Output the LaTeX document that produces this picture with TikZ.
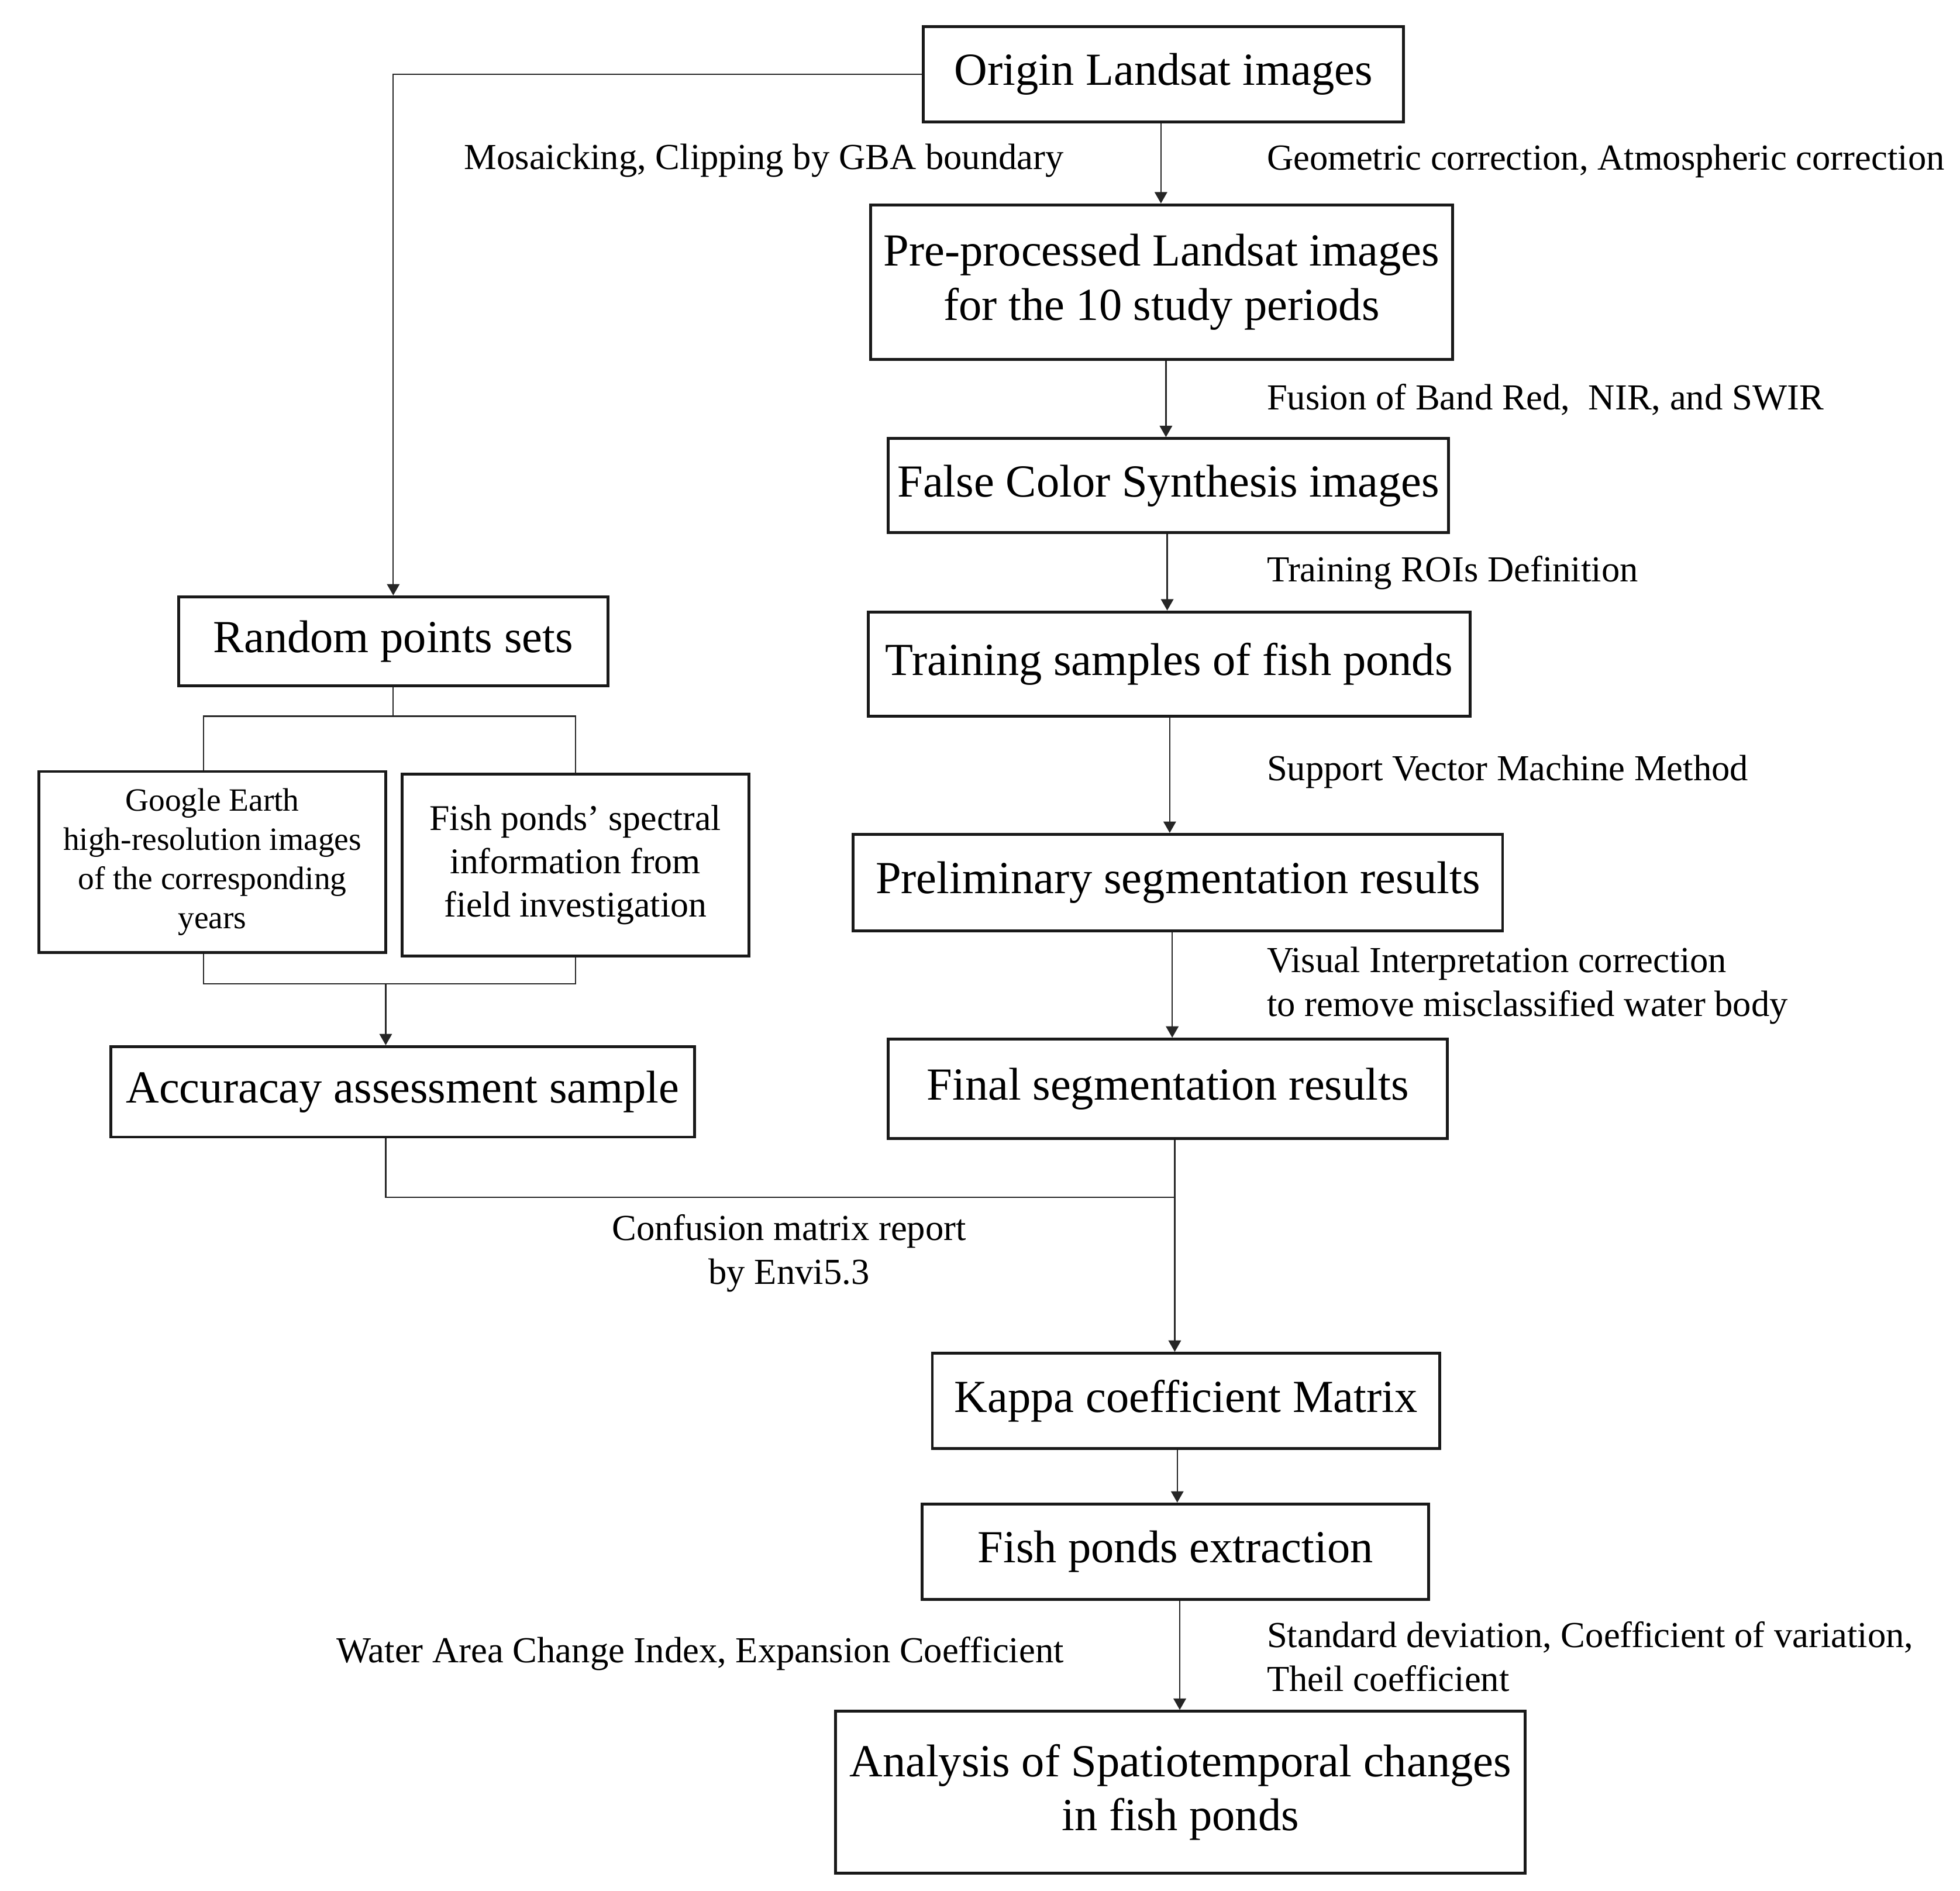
\documentclass[tikz,border=0pt]{standalone}
\usepackage{fontspec}
\setmainfont{Liberation Serif}
\usetikzlibrary{arrows.meta}
\tikzset{
  box/.style={draw=black!90, line width=1.3pt, inner sep=0pt, align=center, font=\fontsize{20.8}{24.5}\selectfont},
  lab/.style={inner sep=0pt, font=\fontsize{16.6}{19.9}\selectfont},
  conn/.style={draw=black!85, line width=0.6pt},
  arr/.style={conn, -{Triangle[width=0.2cm,length=0.18cm]}}
}
\begin{document}
\begin{tikzpicture}[x=0.02cm, y=-0.02cm]
\useasboundingbox (0,0) rectangle (1560,1505);
% right column
\node[box, minimum width=7.64cm, minimum height=1.52cm] (orig) at (926,59) {Origin Landsat images};
\node[box, minimum width=9.26cm, minimum height=2.46cm] (pre) at (924.5,224.5) {Pre-processed Landsat images\\for the 10 study periods};
\node[box, minimum width=8.92cm, minimum height=1.5cm] (fcs) at (930,386.5) {False Color Synthesis images};
\node[box, minimum width=9.58cm, minimum height=1.66cm] (train) at (930.5,528.5) {Training samples of fish ponds};
\node[box, minimum width=10.34cm, minimum height=1.54cm] (prelim) at (937.5,702.5) {Preliminary segmentation results};
\node[box, minimum width=8.9cm, minimum height=1.58cm] (final) at (929.5,866.5) {Final segmentation results};
\node[box, minimum width=8.08cm, minimum height=1.52cm] (kappa) at (944,1115) {Kappa coefficient Matrix};
\node[box, minimum width=8.06cm, minimum height=1.52cm] (fishex) at (935.5,1235) {Fish ponds extraction};
\node[box, minimum width=10.98cm, minimum height=2.58cm] (anal) at (939.5,1426.5) {Analysis of Spatiotemporal changes\\in fish ponds};
% left column
\node[box, minimum width=6.84cm, minimum height=1.42cm] (rand) at (313,510.5) {Random points sets};
\node[box, minimum width=5.52cm, minimum height=2.88cm, font=\fontsize{14.7}{17.8}\selectfont] (google) at (169,686) {Google Earth\\high-resolution images\\of the corresponding\\years};
\node[box, minimum width=5.52cm, minimum height=2.9cm, font=\fontsize{16.4}{19.6}\selectfont] (spec) at (458,688.5) {Fish ponds’ spectral\\information from\\field investigation};
\node[box, minimum width=9.3cm, minimum height=1.44cm] (acc) at (320.5,869) {Accuracay assessment sample};
% labels
\node[lab, anchor=east] (l1) at (847,128) {Mosaicking, Clipping by GBA boundary};
\node[lab, anchor=west] (l2) at (1008,128) {Geometric correction, Atmospheric correction};
\node[lab, anchor=west] (l3) at (1008,318) {Fusion of Band Red,\ \ NIR, and SWIR};
\node[lab, anchor=west] (l4) at (1008,456) {Training ROIs Definition};
\node[lab, anchor=west] (l5) at (1008,614) {Support Vector Machine Method};
\node[lab, anchor=west, align=left] (l6) at (1008,784.5) {Visual Interpretation correction\\to remove misclassified water body};
\node[lab, align=center] (l7) at (628,997.5) {Confusion matrix report\\by Envi5.3};
\node[lab, anchor=east] (l8) at (847,1316) {Water Area Change Index, Expansion Coefficient};
\node[lab, anchor=west, align=left] (l9) at (1008,1318.5) {Standard deviation, Coefficient of variation,\\Theil coefficient};
% helper coordinates
\coordinate (x1) at (924,0);
\coordinate (x2) at (928,0);
\coordinate (x3) at (929,0);
\coordinate (x4) at (931,0);
\coordinate (x5) at (933,0);
\coordinate (x6) at (937,0);
\coordinate (x7) at (939,0);
\coordinate (s1) at (162,570);
\coordinate (s2) at (458,570);
\coordinate (b1) at (162,783);
\coordinate (b2) at (458,783);
\coordinate (m) at (307,783);
\coordinate (j1) at (307,953);
\coordinate (j2) at (935,953);
% connectors right column
\draw[arr] (orig.south -| x1) -- (pre.north -| x1);
\draw[arr] (pre.south -| x2) -- (fcs.north -| x2);
\draw[arr] (fcs.south -| x3) -- (train.north -| x3);
\draw[arr] (train.south -| x4) -- (prelim.north -| x4);
\draw[arr] (prelim.south -| x5) -- (final.north -| x5);
\draw[arr] (kappa.south -| x6) -- (fishex.north -| x6);
\draw[arr] (fishex.south -| x7) -- (anal.north -| x7);
% left branch
\draw[arr] (orig.west) -| (rand.north);
\draw[conn] (rand.south) -- (rand.south |- s1);
\draw[conn] (google.north -| s1) -- (s1) -- (s2) -- (spec.north -| s2);
\draw[conn] (google.south -| b1) -- (b1) -- (b2) -- (spec.south -| b2);
\draw[arr] (m) -- (acc.north -| m);
\draw[conn] (acc.south -| j1) -- (j1) -- (j2);
\draw[arr] (final.south -| j2) -- (kappa.north -| j2);
\end{tikzpicture}
\end{document}
